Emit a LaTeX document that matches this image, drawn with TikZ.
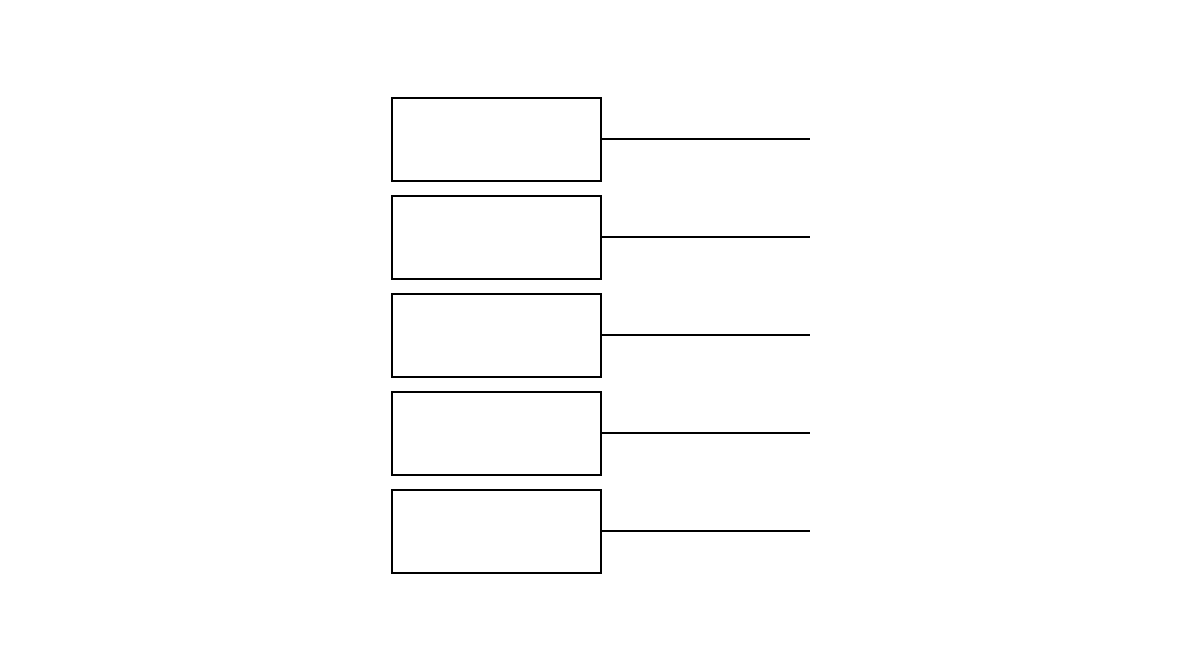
\documentclass[tikz,border=0pt]{standalone}
\begin{document}
\begin{tikzpicture}[x=1pt,y=-1pt,
  boxst/.style={draw=black, line width=2pt, rectangle, minimum width=209pt, minimum height=83pt, inner sep=0pt, outer sep=0pt, fill=white},
  linkst/.style={draw=black, line width=2pt}]
\useasboundingbox[fill=white] (0,0) rectangle (1200,670);
\foreach \i/\yy in {1/139,2/237,3/335,4/433,5/531}{
  \node[boxst] (b\i) at (496.5,\yy) {};
  \coordinate (e\i) at (810,\yy);
  \draw[linkst] (b\i.east) -- (e\i);
}
\end{tikzpicture}
\end{document}
